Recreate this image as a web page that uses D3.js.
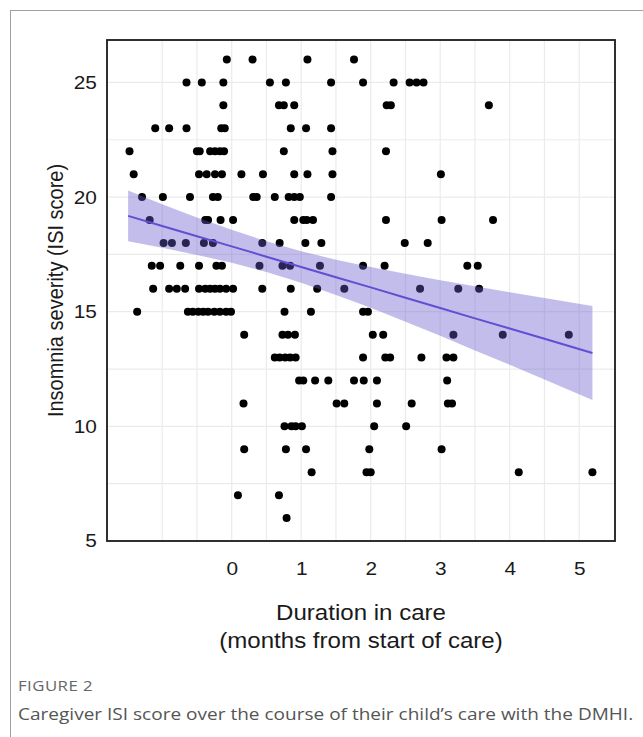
<!DOCTYPE html>
<html>
<head>
<meta charset="utf-8">
<script src="https://cdnjs.cloudflare.com/ajax/libs/d3/7.8.5/d3.min.js"></script>
<style>
  body { margin: 0; background: #fff; }
  svg { display: block; }
</style>
</head>
<body>
<div id="chart"></div>
<script>
// scores grouped by ISI value, each list = months in care for that score
var scoreLevels = [26, 25, 24, 23, 22, 21, 20, 19, 18, 17, 16, 15, 14, 13, 12, 11, 10, 9, 8, 7, 6];
var monthsByScore = [
  [-0.07, 0.30, 1.09, 1.76],
  [-0.65, -0.43, -0.12, 0.55, 0.78, 1.43, 1.89, 2.33, 2.56, 2.66, 2.76],
  [-0.12, 0.68, 0.75, 0.90, 2.23, 2.29, 3.70],
  [-1.10, -0.90, -0.65, -0.15, -0.10, 0.85, 1.07, 1.43],
  [-1.47, -0.50, -0.46, -0.31, -0.24, -0.17, -0.11, 0.75, 1.45, 2.22],
  [-1.41, -0.47, -0.36, -0.24, -0.14, 0.14, 0.45, 0.90, 1.09, 1.45, 3.01],
  [-1.29, -0.99, -0.60, -0.27, -0.20, 0.31, 0.36, 0.62, 0.82, 0.90, 0.98, 1.43],
  [-1.18, -0.38, -0.34, -0.16, 0.02, 0.90, 1.03, 1.08, 1.17, 2.22, 3.02, 3.76],
  [-0.98, -0.86, -0.66, -0.40, -0.27, 0.44, 0.69, 1.06, 1.29, 2.49, 2.82],
  [-1.15, -1.03, -0.74, -0.47, -0.22, -0.14, 0.40, 0.73, 0.84, 1.27, 1.89, 2.20, 3.39, 3.54],
  [-1.13, -0.90, -0.79, -0.67, -0.47, -0.38, -0.31, -0.24, -0.17, -0.08, 0.02, 0.44, 0.85, 1.23, 1.62, 2.71, 3.26, 3.56],
  [-1.36, -0.63, -0.56, -0.48, -0.41, -0.34, -0.25, -0.17, -0.08, -0.01, 0.76, 1.14, 1.89, 1.96],
  [0.18, 0.73, 0.81, 0.91, 2.03, 2.18, 3.19, 3.90, 4.85],
  [0.62, 0.69, 0.77, 0.84, 0.92, 1.89, 2.21, 2.28, 2.73, 3.09, 3.19],
  [0.97, 1.03, 1.20, 1.39, 1.76, 1.90, 2.09, 3.10],
  [0.17, 1.51, 1.62, 2.09, 2.59, 3.11, 3.17],
  [0.76, 0.86, 0.92, 1.01, 2.05, 2.51],
  [0.18, 0.78, 1.07, 1.98, 3.02],
  [1.15, 1.94, 2.00, 4.13, 5.19],
  [0.09, 0.68],
  [0.79]
];

// fitted trend and its band
var fitMonths = [-1.49, -1, -0.5, 0, 0.5, 1, 1.5, 2, 2.5, 3, 3.5, 4, 4.5, 5.19];
var fitScore  = [19.18, 18.74, 18.29, 17.85, 17.40, 16.95, 16.50, 16.06, 15.61, 15.16, 14.71, 14.27, 13.82, 13.20];
var fitLower  = [18.07, 17.79, 17.47, 17.13, 16.73, 16.26, 15.73, 15.17, 14.56, 13.95, 13.31, 12.69, 12.04, 11.15];
var fitUpper  = [20.29, 19.69, 19.11, 18.57, 18.07, 17.64, 17.27, 16.95, 16.66, 16.37, 16.11, 15.85, 15.60, 15.25];

var xTicks = [0, 1, 2, 3, 4, 5];
var xGrid = [-1, -0.5, 0, 0.5, 1, 1.5, 2, 2.5, 3, 3.5, 4, 4.5, 5];
var yTicks = [5, 10, 15, 20, 25];
var yGrid = [7.5, 10, 12.5, 15, 17.5, 20, 22.5, 25];

var points = [];
for (var i = 0; i < scoreLevels.length; i++) {
  for (var j = 0; j < monthsByScore[i].length; j++) {
    points.push({month: monthsByScore[i][j], score: scoreLevels[i]});
  }
}
var band = fitMonths.map(function(m, i) {
  return {month: m, fit: fitScore[i], lo: fitLower[i], hi: fitUpper[i]};
});

var W = 643, H = 737;
var panel = {left: 107, right: 615, top: 40, bottom: 541};
var stretch = 1.12; // the figure's text is a bit wide

var x = d3.scaleLinear().domain([-1.794, 5.515]).range([panel.left, panel.right]);
var y = d3.scaleLinear().domain([5, 26.85]).range([panel.bottom, panel.top]);

var svg = d3.select("#chart").append("svg")
    .attr("width", W)
    .attr("height", H);

// outer figure frame
svg.append("rect")
    .attr("x", 10.5).attr("y", 10.5)
    .attr("width", 700).attr("height", 800)
    .attr("fill", "none")
    .attr("stroke", "#a0a0a0")
    .attr("stroke-width", 1);

var grid = svg.append("g");
grid.selectAll(".vg").data(xGrid).enter().append("line")
    .attr("x1", function(d) { return x(d); })
    .attr("x2", function(d) { return x(d); })
    .attr("y1", panel.top).attr("y2", panel.bottom)
    .attr("stroke", "#ebebeb").attr("stroke-width", 1.2);
grid.selectAll(".hg").data(yGrid).enter().append("line")
    .attr("x1", panel.left).attr("x2", panel.right)
    .attr("y1", function(d) { return y(d); })
    .attr("y2", function(d) { return y(d); })
    .attr("stroke", "#ebebeb").attr("stroke-width", 1.2);

svg.append("g").selectAll("circle")
    .data(points).enter().append("circle")
    .attr("cx", function(d) { return x(d.month); })
    .attr("cy", function(d) { return y(d.score); })
    .attr("r", 4)
    .attr("fill", "#000");

var area = d3.area()
    .x(function(d) { return x(d.month); })
    .y0(function(d) { return y(d.lo); })
    .y1(function(d) { return y(d.hi); });
svg.append("path")
    .datum(band)
    .attr("d", area)
    .attr("fill", "#6a5acd")
    .attr("fill-opacity", 0.4);

var line = d3.line()
    .x(function(d) { return x(d.month); })
    .y(function(d) { return y(d.fit); });
svg.append("path")
    .datum(band)
    .attr("d", line)
    .attr("fill", "none")
    .attr("stroke", "#5f4fd3")
    .attr("stroke-width", 2);

svg.append("rect")
    .attr("x", panel.left).attr("y", panel.top)
    .attr("width", panel.right - panel.left)
    .attr("height", panel.bottom - panel.top)
    .attr("fill", "none")
    .attr("stroke", "#1a1a1a")
    .attr("stroke-width", 1.8);

var font = "Liberation Sans, Arial, sans-serif";

var xAxis = d3.axisBottom(x).tickValues(xTicks).tickSize(0).tickPadding(21);
var gx = svg.append("g")
    .attr("transform", "translate(0," + panel.bottom + ")")
    .call(xAxis);
gx.select(".domain").remove();
gx.selectAll("text")
    .attr("font-family", font).attr("font-size", 18.6).attr("fill", "#1a1a1a")
    .attr("transform", "scale(" + stretch + ",1)");

var yAxis = d3.axisLeft(y).tickValues(yTicks).tickSize(0).tickPadding(9);
var gy = svg.append("g")
    .attr("transform", "translate(" + panel.left + ",0)")
    .call(yAxis);
gy.select(".domain").remove();
gy.selectAll("text")
    .attr("font-family", font).attr("font-size", 18.6).attr("fill", "#1a1a1a")
    .attr("transform", "scale(" + stretch + ",1)");

svg.append("text")
    .attr("transform", "translate(63," + ((panel.top + panel.bottom) / 2) + ") scale(" + stretch + ",1) rotate(-90)")
    .attr("text-anchor", "middle")
    .attr("font-family", font)
    .attr("font-size", 20)
    .attr("fill", "#1a1a1a")
    .text("Insomnia severity (ISI score)");

var cx = (panel.left + panel.right) / 2;
var xt = svg.append("text")
    .attr("transform", "translate(" + cx + ",0) scale(" + stretch + ",1)")
    .attr("text-anchor", "middle")
    .attr("font-family", font)
    .attr("font-size", 21.5)
    .attr("fill", "#1a1a1a");
xt.append("tspan").attr("x", 0).attr("y", 620).text("Duration in care");
xt.append("tspan").attr("x", 0).attr("y", 648).text("(months from start of care)");

svg.append("text")
    .attr("transform", "translate(18,691) scale(" + stretch + ",1)")
    .attr("font-family", "Open Sans, sans-serif")
    .attr("font-size", 15)
    .attr("letter-spacing", 0.4)
    .attr("fill", "#666")
    .text("FIGURE 2");
svg.append("text")
    .attr("transform", "translate(18,720) scale(" + stretch + ",1)")
    .attr("font-family", "Open Sans, sans-serif")
    .attr("font-size", 17)
    .attr("fill", "#555")
    .text("Caregiver ISI score over the course of their child\u2019s care with the DMHI.");
</script>
</body>
</html>
